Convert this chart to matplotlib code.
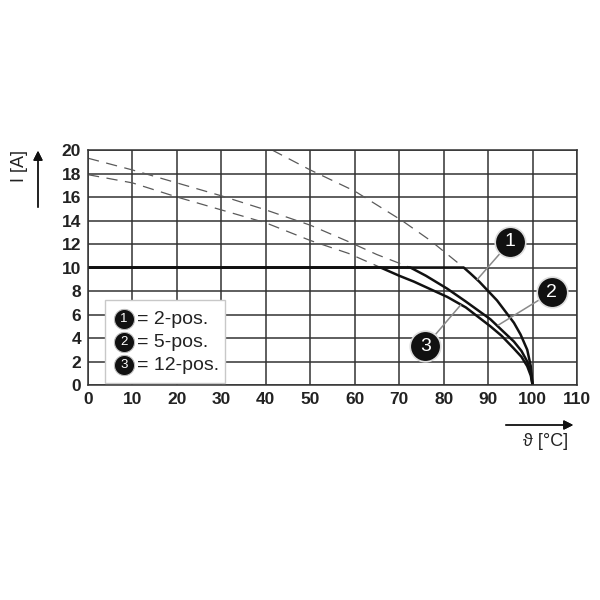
import matplotlib.pyplot as plt

plt.rcParams['font.family'] = ['Liberation Sans', 'DejaVu Sans']

# solid derating curves (temperature, current)
t_2pos = [0, 84.5, 86, 88, 90, 92, 94, 95.8, 97.3, 98.8, 99.6, 100]
i_2pos = [10, 10, 9.5, 8.8, 8.0, 7.2, 6.2, 5.3, 4.3, 3.0, 1.6, 0]
t_5pos = [0, 72.5, 76, 80.8, 85, 90.5, 93, 95.8, 97.5, 98.8, 99.6, 100]
i_5pos = [10, 10, 9.3, 8.2, 7.1, 5.6, 4.7, 3.7, 2.9, 2.0, 1.1, 0]
t_12pos = [0, 65.8, 70, 73.3, 80.8, 85, 90.5, 93, 95.8, 97.5, 98.8, 99.6, 100]
i_12pos = [10, 10, 9.3, 8.8, 7.5, 6.6, 5.0, 4.2, 3.1, 2.4, 1.6, 0.8, 0]

# dashed curves (current without the 10 A limit)
td_2pos = [41.4, 50, 60, 70.6, 77, 84.5]
id_2pos = [20, 18.3, 16.5, 14.0, 12.3, 10]
td_5pos = [0, 10, 20, 30, 40, 50, 58.6, 65, 72.5]
id_5pos = [19.3, 18.3, 17.2, 16.1, 14.9, 13.6, 12.2, 11.1, 10]
td_12pos = [0, 10, 20, 30, 40, 50, 58.6, 65.8]
id_12pos = [17.9, 17.2, 16.0, 14.9, 13.8, 12.3, 11.2, 10]

labels = ['1', '2', '3']
legend_text = ['= 2-pos.', '= 5-pos.', '= 12-pos.']
# callout circles and where their leader lines touch the curves
circle_pos = [(95, 12.2), (104.3, 7.9), (75.9, 3.3)]
leader_end = [(87.6, 9.0), (92.3, 5.1), (83.8, 6.8)]

fig = plt.figure(figsize=(6, 6), dpi=100)
ax = fig.add_axes([0.1467, 0.3583, 0.815, 0.3917])

ax.set_xlim(0, 110)
ax.set_ylim(0, 20)
ax.set_xticks(range(0, 111, 10))
ax.set_yticks(range(0, 21, 2))
ax.tick_params(length=0, labelsize=12.5, pad=5, labelcolor='#222222')
for lab in ax.get_xticklabels() + ax.get_yticklabels():
    lab.set_fontweight('bold')
ax.grid(True, color='#333333', lw=1.1)
ax.set_axisbelow(True)
for s in ax.spines.values():
    s.set_color('#333333')
    s.set_linewidth(1.1)

for t, i in [(td_2pos, id_2pos), (td_5pos, id_5pos), (td_12pos, id_12pos)]:
    ax.plot(t, i, color='#5a5a5a', lw=0.9, dashes=(9, 6))
for t, i in [(t_2pos, i_2pos), (t_5pos, i_5pos), (t_12pos, i_12pos)]:
    ax.plot(t, i, color='#111111', lw=1.8, solid_joinstyle='round')

for lab, (cx, cy), (ex, ey) in zip(labels, circle_pos, leader_end):
    ax.plot([cx, ex], [cy, ey], color='#8a8a8a', lw=1.1, zorder=4)
    ax.plot(cx, cy, 'o', ms=22, color='#111111', mec='#dddddd', mew=1.2, zorder=5)
    ax.text(cx, cy, lab, color='white', fontsize=14, ha='center', va='center', zorder=6)

# legend box
leg = plt.Rectangle((3.9, 0.2), 27.0, 7.0, fc='white', ec='#c8c8c8', lw=1, zorder=3)
ax.add_patch(leg)
for k, (lab, txt) in enumerate(zip(labels, legend_text)):
    yy = 5.6 - k * 1.96
    ax.plot(8.1, yy, 'o', ms=14.5, color='#111111', mec='#bbbbbb', mew=0.8, zorder=5)
    ax.text(8.1, yy, lab, color='white', fontsize=9.5, ha='center', va='center', zorder=6)
    ax.text(11.1, yy, txt, fontsize=14, ha='left', va='center', color='#222222', zorder=6)

# axis labels with arrows
fig.text(19 / 600, 1 - 166 / 600, 'I [A]', rotation=90, fontsize=13, ha='center', va='center',
         color='#222222')
fig.add_artist(plt.annotate('', xy=(38 / 600, 1 - 148 / 600), xytext=(38 / 600, 1 - 210 / 600),
                            xycoords='figure fraction',
                            arrowprops=dict(arrowstyle='-|>', color='#111111', lw=1, mutation_scale=14)))
fig.text(546 / 600, 1 - 441 / 600, 'ϑ [°C]', fontsize=13, ha='center', va='center', color='#222222')
fig.add_artist(plt.annotate('', xy=(576 / 600, 1 - 425 / 600), xytext=(503 / 600, 1 - 425 / 600),
                            xycoords='figure fraction',
                            arrowprops=dict(arrowstyle='-|>', color='#111111', lw=1, mutation_scale=14)))

fig.savefig('out.png', dpi=100)
